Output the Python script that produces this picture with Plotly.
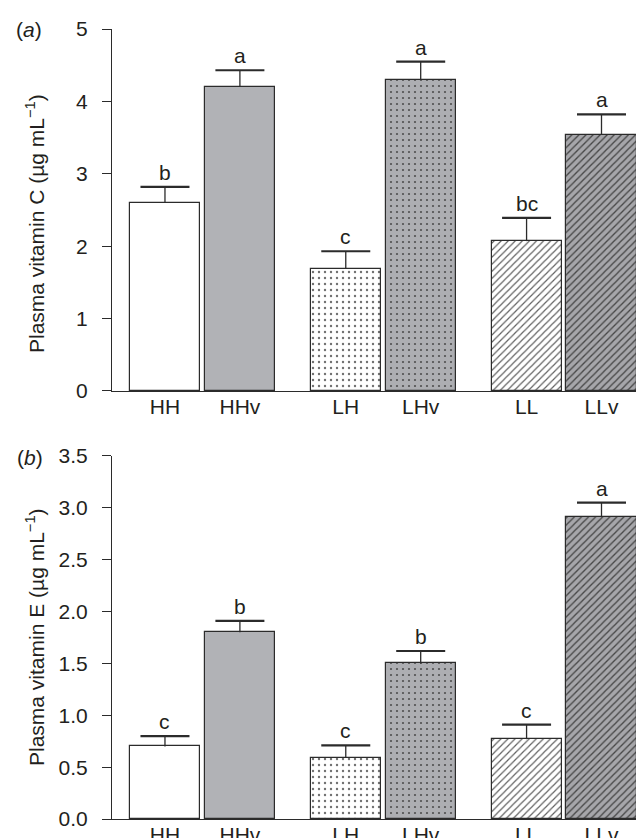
import plotly.graph_objects as go

groups = ["HH", "HHv", "LH", "LHv", "LL", "LLv"]
vitc_mean = [2.60, 4.20, 1.69, 4.30, 2.07, 3.54]
vitc_se = [0.22, 0.23, 0.24, 0.25, 0.32, 0.28]
vitc_letters = ["b", "a", "c", "a", "bc", "a"]
vite_mean = [0.70, 1.80, 0.59, 1.50, 0.77, 2.91]
vite_se = [0.10, 0.11, 0.12, 0.12, 0.14, 0.14]
vite_letters = ["c", "b", "c", "b", "c", "a"]

# layout positions: pairs within groups of two, wider gap between groups
group_gap = 2.413
xpos = [(i // 2) * group_gap + (i % 2) for i in range(len(groups))]

styles = [
    dict(color="white", pattern=dict(shape="")),
    dict(color="#b1b2b6", pattern=dict(shape="")),
    dict(color="white", pattern=dict(shape=".", bgcolor="white", fgcolor="#707070", size=6, solidity=0.12, fillmode="replace")),
    dict(color="#adaeb2", pattern=dict(shape=".", bgcolor="#adaeb2", fgcolor="#505050", size=6, solidity=0.11, fillmode="replace")),
    dict(color="white", pattern=dict(shape="/", bgcolor="white", fgcolor="#606060", size=5, solidity=0.24, fillmode="replace")),
    dict(color="#a6a6aa", pattern=dict(shape="/", bgcolor="#a6a6aa", fgcolor="#464646", size=5, solidity=0.26, fillmode="replace")),
]

fig = go.Figure()
FONT = "Liberation Sans, Arial, sans-serif"
TXT = "#231f20"
EDGE = "#2b2b2b"
FS = 21

def add_panel(means, ses, letters, yax, xax):
    for i in range(len(groups)):
        fig.add_trace(go.Bar(
            x=[xpos[i]], y=[means[i]], width=0.935,
            marker=dict(color=styles[i]["color"], pattern=styles[i]["pattern"],
                        line=dict(color=EDGE, width=1.2)),
            xaxis=xax, yaxis=yax, showlegend=False, hoverinfo="skip"))
    sx, sy = [], []
    for i in range(len(groups)):
        sx += [xpos[i], xpos[i], None]
        sy += [means[i], means[i] + ses[i], None]
    fig.add_trace(go.Scatter(x=sx, y=sy, mode="lines", line=dict(color=EDGE, width=1.3),
                             xaxis=xax, yaxis=yax, showlegend=False, hoverinfo="skip"))
    tops = [m + s for m, s in zip(means, ses)]
    fig.add_trace(go.Scatter(x=xpos, y=tops, mode="markers",
                             marker=dict(symbol="line-ew", size=35, line=dict(color=EDGE, width=2.2)),
                             xaxis=xax, yaxis=yax, showlegend=False, hoverinfo="skip"))
    for i in range(len(groups)):
        fig.add_annotation(x=xpos[i], y=tops[i], text=letters[i], showarrow=False,
                           xref=xax, yref=yax, yanchor="bottom", yshift=1,
                           font=dict(family=FONT, size=FS, color=TXT))

add_panel(vitc_mean, vitc_se, vitc_letters, "y", "x")
add_panel(vite_mean, vite_se, vite_letters, "y2", "x2")

xr = [-0.707, 5.827 + 0.673]
axis_common = dict(showline=True, linecolor=EDGE, linewidth=1.2, showgrid=False, zeroline=False,
                   automargin=False, tickfont=dict(family=FONT, size=FS, color=TXT))
fig.update_layout(
    template="none",
    width=644, height=838, plot_bgcolor="white", paper_bgcolor="white",
    margin=dict(l=104, r=0, t=21, b=27, autoexpand=False), bargap=0,
    xaxis=dict(domain=[0, 1], range=xr, tickvals=xpos, ticktext=groups, ticks="", anchor="y",
               ticklabelstandoff=-3, **axis_common),
    xaxis2=dict(domain=[0, 1], range=xr, tickvals=xpos, ticktext=groups, ticks="", anchor="y2",
                ticklabelstandoff=-3, **axis_common),
    yaxis=dict(domain=[0.5418, 1], range=[0, 5], tickvals=[0, 1, 2, 3, 4, 5], ticks="outside",
               ticklen=9, tickcolor=EDGE, tickwidth=1.2, anchor="x", ticklabelstandoff=10, **axis_common),
    yaxis2=dict(domain=[0, 0.4595], range=[0, 3.5], tickvals=[0, 0.5, 1, 1.5, 2, 2.5, 3, 3.5],
                ticktext=["0.0", "0.5", "1.0", "1.5", "2.0", "2.5", "3.0", "3.5"], ticks="outside",
                ticklen=9, tickcolor=EDGE, tickwidth=1.2, anchor="x2", ticklabelstandoff=10, **axis_common),
)

W, H = 644, 838
pl, pb, pw, ph = 104, 27, 644 - 104, 838 - 21 - 27
def px_to_paper(x, y):
    return (x - pl) / pw, (H - pb - y) / ph
for txt, (xp, yp) in [("Plasma vitamin C (µg mL<sup>−1</sup>)", (27, 216)),
                      ("Plasma vitamin E (µg mL<sup>−1</sup>)", (27, 629))]:
    ax, ay = px_to_paper(xp, yp)
    fig.add_annotation(x=ax, y=ay, xref="paper", yref="paper", text=txt, textangle=-90,
                       showarrow=False, xanchor="center", yanchor="middle",
                       font=dict(family=FONT, size=FS, color=TXT))
for txt, (xp, yp) in [("(<i>a</i>)", (21, 21)), ("(<i>b</i>)", (22, 449))]:
    ax, ay = px_to_paper(xp, yp)
    fig.add_annotation(x=ax, y=ay, xref="paper", yref="paper", text=txt, showarrow=False,
                       xanchor="center", yanchor="middle", font=dict(family=FONT, size=FS, color=TXT))

fig.write_html("out.html")
